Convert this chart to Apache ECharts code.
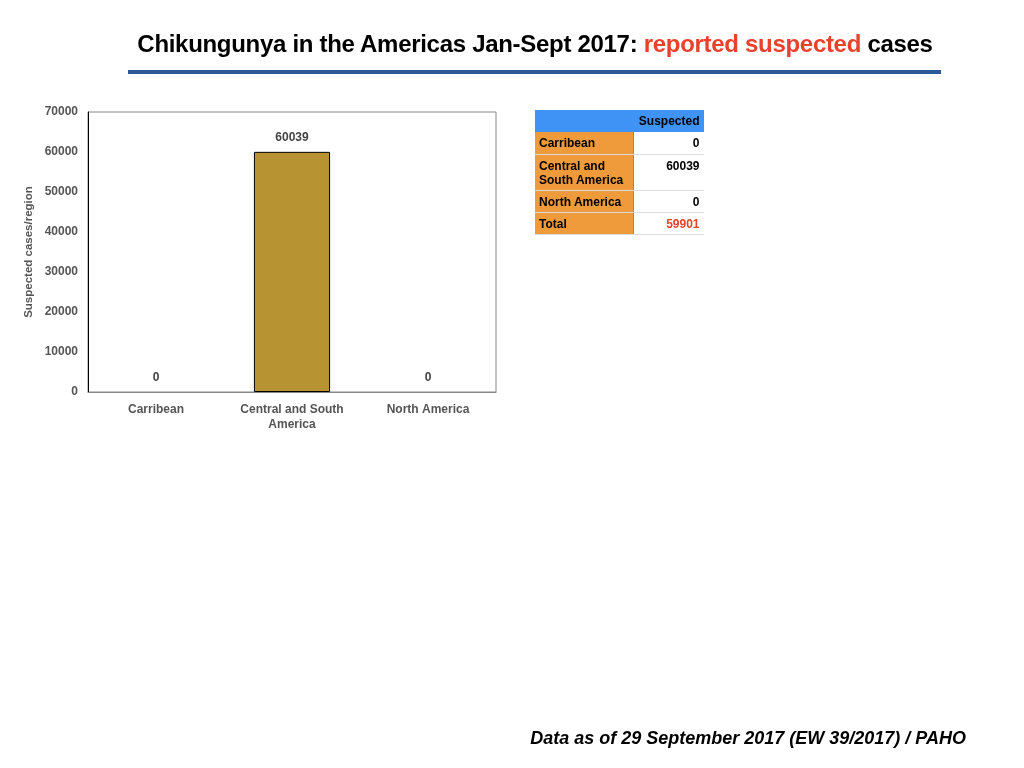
<!DOCTYPE html>
<html><head><meta charset="utf-8">
<script src="https://cdn.jsdelivr.net/npm/echarts@6/dist/echarts.min.js"></script>
<style>
html,body{margin:0;padding:0;background:#fff;}
#wrap{position:relative;width:1024px;height:768px;font-family:"Liberation Sans",Arial,sans-serif;}
#chart{position:absolute;left:0;top:0;width:1024px;height:768px;}
#title{position:absolute;left:0;width:1070px;top:30px;text-align:center;font-weight:bold;font-size:24px;color:#000;letter-spacing:-0.3px;}
#title span{color:#e8412c;}
#rule{position:absolute;left:128px;top:70px;width:813px;height:4px;background:#2b5897;}
#foot{position:absolute;right:58px;top:728px;font-weight:bold;font-style:italic;font-size:18px;color:#000;}
table{position:absolute;left:535px;top:110px;border-collapse:collapse;font-size:12px;font-weight:bold;color:#000;}
td{padding:0 4px;vertical-align:top;border-bottom:1px solid #ddd;}
td.h{background:#ef9b3b;width:90px;border-right:1px solid #888;}
td.v{background:#fff;text-align:right;width:62px;}
tr.hd td{background:#3f93f4;height:22px;vertical-align:middle;border-bottom:none;}
</style></head>
<body><div id="wrap">
<div id="chart"></div>
<div id="title">Chikungunya in the Americas Jan-Sept 2017: <span>reported suspected</span> cases</div>
<div id="rule"></div>
<table id="tbl"></table>
<div id="foot">Data as of 29 September 2017 (EW 39/2017) / PAHO</div>
</div>
<script>
var categories = ['Carribean', 'Central and South America', 'North America'];
var suspected = [0, 60039, 0];
var tableRows = ['Carribean', 'Central and\nSouth America', 'North America'];
var tableValues = ['0', '60039', '0'];
var totalLabel = 'Total';
var totalValue = '59901';
var yTicks = [0, 10000, 20000, 30000, 40000, 50000, 60000, 70000];

// table
var tbl = document.getElementById('tbl');
var html = '<tr class="hd"><td style="background:#3f93f4;width:90px;"></td><td style="text-align:right;width:62px;">Suspected</td></tr>';
var heights = [22, 36, 22];
for (var i = 0; i < tableRows.length; i++) {
  html += '<tr><td class="h" style="height:' + heights[i] + 'px;padding-top:4px;box-sizing:border-box;line-height:14px;">' + tableRows[i].replace('\n', '<br>') + '</td><td class="v" style="padding-top:4px;line-height:14px;">' + tableValues[i] + '</td></tr>';
}
html += '<tr><td class="h" style="height:22px;padding-top:4px;box-sizing:border-box;line-height:14px;">' + totalLabel + '</td><td class="v" style="color:#e8412c;padding-top:4px;line-height:14px;">' + totalValue + '</td></tr>';
tbl.innerHTML = html;

var chart = echarts.init(document.getElementById('chart'));
chart.setOption({
  animation: false,
  grid: { left: 88, top: 112, width: 408, height: 280, show: true, borderColor: '#888', borderWidth: 1 },
  xAxis: {
    type: 'category',
    data: categories,
    axisLine: { lineStyle: { color: '#888' } },
    axisTick: { show: false },
    axisLabel: {
      color: '#555', fontWeight: 'bold', fontSize: 12, fontFamily: 'Liberation Sans', margin: 10, lineHeight: 15,
      formatter: function (v) { return v === 'Central and South America' ? 'Central and South\nAmerica' : v; }
    }
  },
  yAxis: {
    type: 'value', min: yTicks[0], max: yTicks[yTicks.length - 1], interval: 10000,
    name: 'Suspected cases/region', nameLocation: 'middle', nameGap: 53,
    nameTextStyle: { color: '#555', fontWeight: 'bold', fontSize: 11.5, fontFamily: 'Liberation Sans' },
    axisLine: { show: true, lineStyle: { color: '#000' } },
    axisTick: { show: false },
    splitLine: { show: false },
    axisLabel: { color: '#555', fontWeight: 'bold', fontSize: 12, fontFamily: 'Liberation Sans', margin: 10,
      formatter: function (v) { return String(v); } }
  },
  series: [{
    type: 'bar',
    data: suspected.map(function (v) { return { value: v, itemStyle: { borderWidth: v > 0 ? 1 : 0 } }; }),
    barWidth: '56%',
    itemStyle: { color: '#b89331', borderColor: '#000', borderWidth: 1 },
    label: { show: true, position: 'top', distance: 8, color: '#444', fontWeight: 'bold', fontSize: 12, fontFamily: 'Liberation Sans' }
  }]
});
</script>
</body></html>
